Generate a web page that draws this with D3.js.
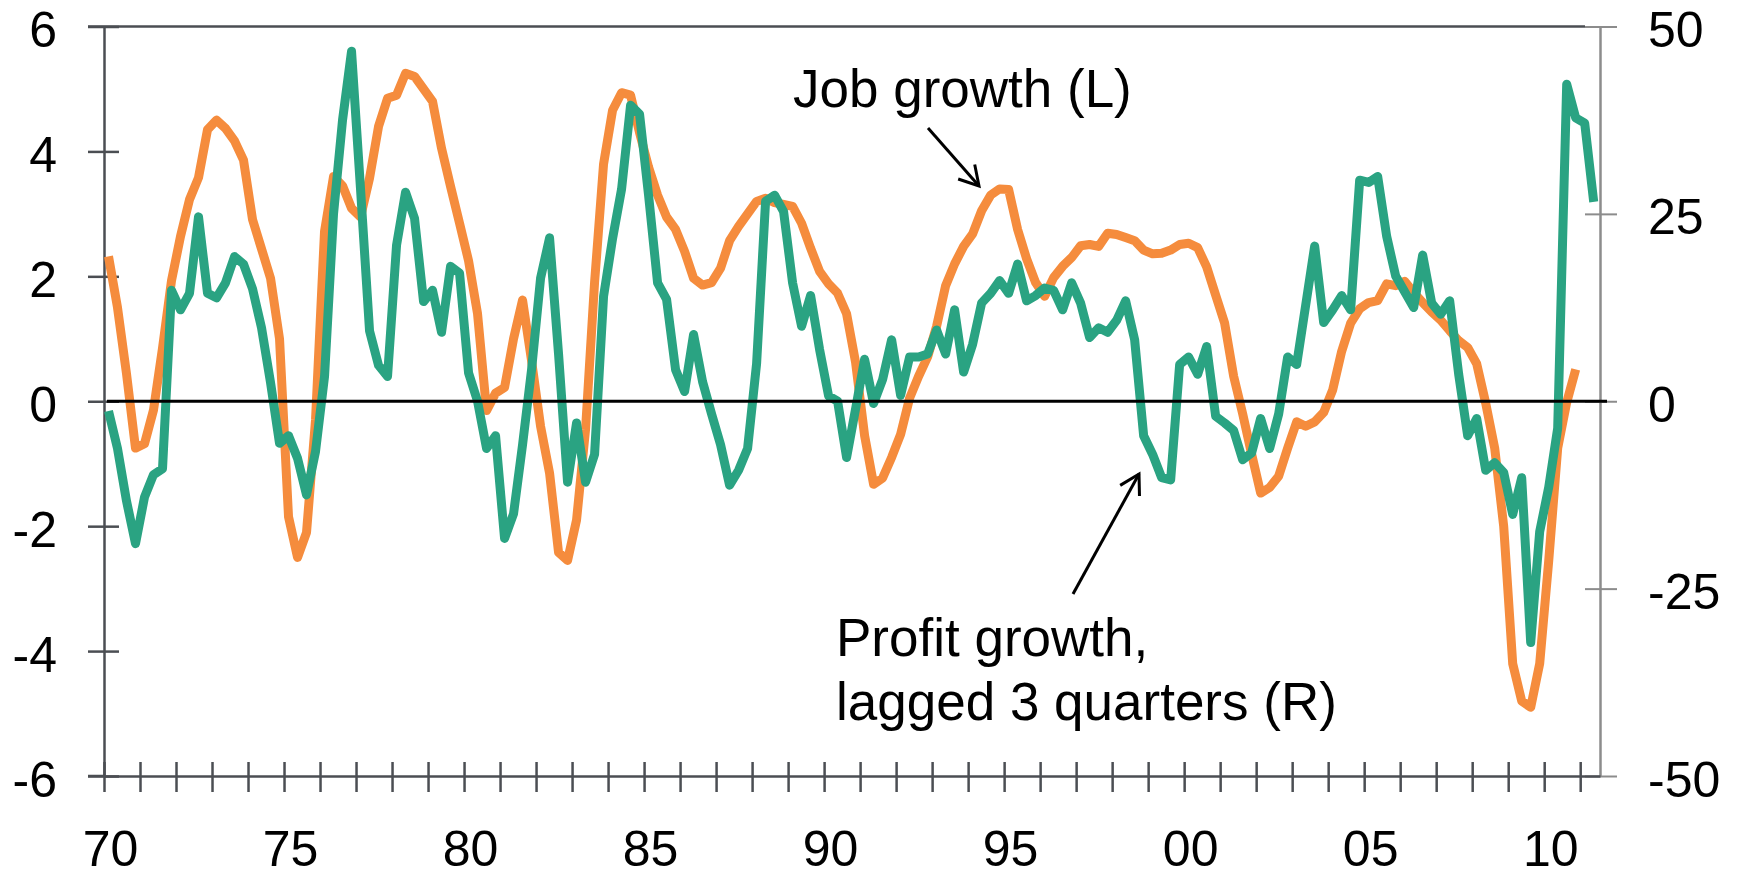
<!DOCTYPE html>
<html>
<head>
<meta charset="utf-8">
<script src="https://cdn.jsdelivr.net/npm/d3@7"></script>
<style>
    html, body { margin: 0; padding: 0; background: #fff; }
    svg { display: block; }
</style>
</head>
<body>
<div id="chart"></div>
<script>
// quarterly series, first value = 1970 Q1
const startYear = 1970;

// Job growth, % y/y (left axis)
const jobGrowth = [
    2.32, 1.5, 0.44, -0.75, -0.68, -0.14, 0.85, 1.93, 2.64, 3.23,
    3.58, 4.35, 4.5, 4.37, 4.17, 3.86, 2.91, 2.44, 1.97, 1.0,
    -1.85, -2.5, -2.1, -0.3, 2.72, 3.6, 3.45, 3.09, 2.95, 3.57,
    4.4, 4.85, 4.9, 5.25, 5.2, 5.0, 4.8, 4.05, 3.44, 2.85,
    2.25, 1.4, -0.15, 0.13, 0.22, 1.0, 1.62, 0.65, -0.4, -1.15,
    -2.42, -2.55, -1.9, -0.45, 1.9, 3.8, 4.66, 4.94, 4.9, 4.3,
    3.75, 3.3, 2.95, 2.75, 2.4, 1.97, 1.86, 1.9, 2.13, 2.57,
    2.8, 3.0, 3.2, 3.25, 3.18, 3.15, 3.12, 2.85, 2.45, 2.08,
    1.88, 1.73, 1.4, 0.62, -0.55, -1.33, -1.23, -0.9, -0.53, 0.05,
    0.4, 0.71, 1.2, 1.85, 2.2, 2.48, 2.68, 3.05, 3.3, 3.4,
    3.39, 2.75, 2.28, 1.9, 1.68, 1.98, 2.16, 2.3, 2.49, 2.51,
    2.48, 2.69, 2.67, 2.62, 2.57, 2.42, 2.36, 2.37, 2.42, 2.51,
    2.53, 2.46, 2.15, 1.7, 1.25, 0.4, -0.2, -0.85, -1.47, -1.38,
    -1.2, -0.75, -0.33, -0.4, -0.33, -0.18, 0.18, 0.8, 1.25, 1.48,
    1.58, 1.61, 1.88, 1.85, 1.92, 1.74, 1.58, 1.43, 1.3, 1.13,
    0.97, 0.86, 0.6, -0.03, -0.75, -2.0, -4.2, -4.8, -4.9, -4.2,
    -2.56, -0.75, -0.02, 0.51
];

// Profit growth lagged 3 quarters, % y/y (right axis)
const profitGrowth = [
    -1.3, -6.3, -13.3, -19.0, -12.8, -9.8, -9.0, 14.8, 12.2, 14.4,
    24.6, 14.4, 13.8, 15.8, 19.3, 18.3, 15.0, 9.8, 2.5, -5.6,
    -4.6, -7.6, -12.5, -6.7, 3.3, 25.0, 37.5, 46.7, 28.3, 9.4,
    4.8, 3.3, 20.8, 27.9, 24.4, 13.3, 14.8, 9.2, 18.0, 17.1,
    3.8, 0.0, -6.3, -4.6, -18.3, -15.0, -5.8, 4.2, 16.4, 21.8,
    6.3, -10.8, -2.9, -10.8, -7.1, 14.0, 21.7, 28.3, 39.5, 38.3,
    27.5, 15.8, 13.6, 4.2, 1.3, 8.9, 2.6, -1.7, -5.8, -11.2,
    -9.2, -6.3, 5.0, 26.7, 27.5, 25.3, 15.8, 10.0, 14.1, 6.9,
    0.7, 0.0, -7.5, -1.0, 5.6, -0.3, 2.9, 8.2, 0.8, 5.9,
    5.9, 6.3, 9.5, 6.3, 12.2, 3.9, 7.6, 13.1, 14.4, 16.1,
    14.4, 18.3, 13.4, 14.1, 15.1, 14.8, 12.2, 15.8, 13.1, 8.5,
    9.8, 9.2, 10.8, 13.4, 8.2, -4.6, -7.1, -10.2, -10.5, 4.9,
    5.9, 3.6, 7.3, -2.0, -2.9, -3.9, -7.8, -6.9, -2.3, -6.3,
    -1.7, 5.9, 4.9, 12.8, 20.7, 10.5, 12.2, 14.1, 12.2, 29.5,
    29.2, 30.0, 22.0, 16.7, 14.6, 12.5, 19.5, 13.1, 11.6, 13.4,
    3.6, -4.6, -2.3, -9.2, -8.2, -9.5, -15.1, -10.2, -32.2, -17.4,
    -11.5, -3.6, 42.3, 37.8, 37.1, 26.6
];

const leftTicks = [-6, -4, -2, 0, 2, 4, 6];
const rightTicks = [-50, -25, 0, 25, 50];
const labelYears = [1970, 1975, 1980, 1985, 1990, 1995, 2000, 2005, 2010];
const yearLabels = ['70', '75', '80', '85', '90', '95', '00', '05', '10'];

function renderChart() {
    const width = 1741;
    const height = 877;
    const plot = { left: 104, right: 1600, top: 26.5, bottom: 776 };

    const axisColor = '#4b4e53';
    const rightAxisColor = '#8c8c8c';
    const orange = '#f58c3d';
    const green = '#2aa382';
    const fontFamily = '"Liberation Sans", Arial, Helvetica, sans-serif';

    const svg = d3.select('#chart').append('svg')
        .attr('width', width)
        .attr('height', height)
        .style('font-family', fontFamily);

    const x = d3.scaleLinear().domain([1970, 2011.55]).range([plot.left, plot.right]);
    const yLeft = d3.scaleLinear().domain([-6, 6]).range([plot.bottom, plot.top]);
    const yRight = d3.scaleLinear().domain([-50, 50]).range([plot.bottom, plot.top]);

    // points sit mid-quarter
    const quarterDate = i => startYear + 0.125 + i * 0.25;

    // top border
    svg.append('line')
        .attr('x1', 88).attr('x2', 1585)
        .attr('y1', plot.top).attr('y2', plot.top)
        .attr('stroke', axisColor)
        .attr('stroke-width', 2.5);

    // left axis
    const leftAxis = svg.append('g')
        .attr('transform', `translate(${plot.left},0)`)
        .call(d3.axisLeft(yLeft)
            .tickValues(leftTicks)
            .tickFormat(d => String(d))
            .tickSize(0)
            .tickSizeOuter(0)
            .tickPadding(47));
    leftAxis.select('.domain').attr('stroke', axisColor).attr('stroke-width', 2.5);
    leftAxis.selectAll('.tick line')
        .attr('x1', -16).attr('x2', 15)
        .attr('stroke', axisColor).attr('stroke-width', 2.5);
    leftAxis.selectAll('.tick text')
        .attr('dy', '0.4em')
        .style('font-size', '50px')
        .style('font-family', fontFamily)
        .attr('fill', '#000');

    // right axis
    const rightAxis = svg.append('g')
        .attr('transform', `translate(${plot.right},0)`)
        .call(d3.axisRight(yRight)
            .tickValues(rightTicks)
            .tickFormat(d => String(d))
            .tickSize(0)
            .tickSizeOuter(0)
            .tickPadding(48));
    rightAxis.select('.domain').attr('stroke', rightAxisColor).attr('stroke-width', 2.5);
    rightAxis.selectAll('.tick line')
        .attr('x1', -15).attr('x2', 17)
        .attr('stroke', rightAxisColor).attr('stroke-width', 2);
    rightAxis.selectAll('.tick text')
        .attr('dy', '0.4em')
        .style('font-size', '50px')
        .style('font-family', fontFamily)
        .attr('fill', '#000');

    // bottom axis, a tick every year, labels every five
    const labelFor = new Map(labelYears.map((yr, i) => [yr, yearLabels[i]]));
    const bottomAxis = svg.append('g')
        .attr('transform', `translate(0,${plot.bottom})`)
        .call(d3.axisBottom(x)
            .tickValues(d3.range(1970, 2012))
            .tickFormat(d => labelFor.get(d) || '')
            .tickSize(0)
            .tickSizeOuter(0)
            .tickPadding(54));
    bottomAxis.select('.domain').attr('stroke', axisColor).attr('stroke-width', 2.5);
    bottomAxis.append('line')
        .attr('x1', 88).attr('x2', plot.left)
        .attr('stroke', axisColor).attr('stroke-width', 2.5);
    bottomAxis.selectAll('.tick line')
        .attr('y1', -14).attr('y2', 16)
        .attr('stroke', axisColor).attr('stroke-width', 2.5);
    bottomAxis.selectAll('.tick text')
        .attr('dx', 6)
        .style('font-size', '50px')
        .style('font-family', fontFamily)
        .attr('fill', '#000');

    // series
    const jobLine = d3.line()
        .x((d, i) => x(quarterDate(i)))
        .y(d => yLeft(d));
    const profitLine = d3.line()
        .x((d, i) => x(quarterDate(i)))
        .y(d => yRight(d));

    svg.append('path')
        .datum(jobGrowth)
        .attr('d', jobLine)
        .attr('fill', 'none')
        .attr('stroke', orange)
        .attr('stroke-width', 9)
        .attr('stroke-linejoin', 'round');

    svg.append('path')
        .datum(profitGrowth)
        .attr('d', profitLine)
        .attr('fill', 'none')
        .attr('stroke', green)
        .attr('stroke-width', 9)
        .attr('stroke-linejoin', 'round');

    // zero line
    svg.append('line')
        .attr('x1', plot.left + 3).attr('x2', plot.right + 7)
        .attr('y1', yLeft(0)).attr('y2', yLeft(0))
        .attr('stroke', '#000')
        .attr('stroke-width', 3);

    // annotations
    svg.append('defs').append('marker')
        .attr('id', 'open-arrow')
        .attr('viewBox', '-2 -13 24 26')
        .attr('refX', 19)
        .attr('refY', 0)
        .attr('markerUnits', 'userSpaceOnUse')
        .attr('markerWidth', 24)
        .attr('markerHeight', 26)
        .attr('orient', 'auto')
        .append('path')
        .attr('d', 'M0,-11 L19,0 L0,11')
        .attr('fill', 'none')
        .attr('stroke', '#000')
        .attr('stroke-width', 3);

    const arrows = [
        { x1: 928, y1: 128, x2: 979, y2: 186 },
        { x1: 1073, y1: 594, x2: 1139, y2: 474 }
    ];
    svg.selectAll('.arrow')
        .data(arrows)
        .enter()
        .append('line')
        .attr('class', 'arrow')
        .attr('x1', d => d.x1).attr('y1', d => d.y1)
        .attr('x2', d => d.x2).attr('y2', d => d.y2)
        .attr('stroke', '#000')
        .attr('stroke-width', 3)
        .attr('marker-end', 'url(#open-arrow)');

    const notes = [
        { x: 793, y: 107, text: 'Job growth (L)' },
        { x: 836, y: 656, text: 'Profit growth,' },
        { x: 836, y: 720, text: 'lagged 3 quarters (R)' }
    ];
    svg.selectAll('.note')
        .data(notes)
        .enter()
        .append('text')
        .attr('class', 'note')
        .attr('x', d => d.x)
        .attr('y', d => d.y)
        .style('font-size', '53px')
        .attr('fill', '#000')
        .text(d => d.text);
}

renderChart();
</script>
</body>
</html>
